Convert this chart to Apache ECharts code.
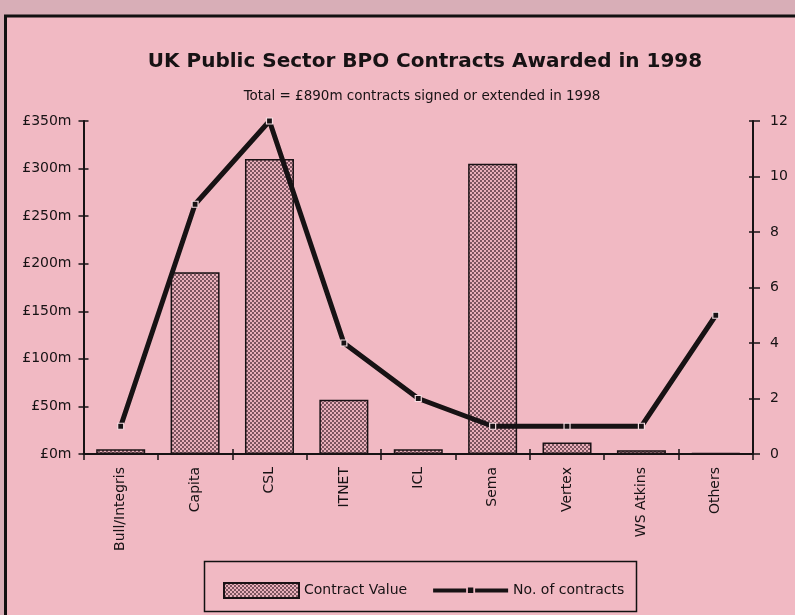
<!DOCTYPE html>
<html>
<head>
<meta charset="utf-8">
<script src="https://cdn.jsdelivr.net/npm/echarts@6/dist/echarts.min.js"></script>
<style>
html,body{margin:0;padding:0;background:#d8aeb7;}
#chart{width:795px;height:615px;}
</style>
</head>
<body>
<div id="chart"></div>
<script>
var categories = ['Bull/Integris','Capita','CSL','ITNET','ICL','Sema','Vertex','WS Atkins','Others'];
var contractValue = [5, 191, 310, 57, 5, 305, 12, 4, 1];
var numContracts = [1, 9, 12, 4, 2, 1, 1, 1, 5];
var leftTicks = {min: 0, max: 350, interval: 50};
var rightTicks = {min: 0, max: 12, interval: 2};

var PINK = '#f1b9c3';
var INK = '#171214';
var FONT = 'DejaVu Sans';

// dotted fill pattern for bars
var tile = document.createElement('canvas');
tile.width = 4; tile.height = 4;
var tc = tile.getContext('2d');
tc.fillStyle = '#eab0bb';
tc.fillRect(0, 0, 4, 4);
tc.fillStyle = '#4d2f39';
tc.beginPath(); tc.arc(1, 1, 0.95, 0, Math.PI * 2); tc.fill();
tc.beginPath(); tc.arc(3, 3, 0.95, 0, Math.PI * 2); tc.fill();
var barPattern = {image: tile, repeat: 'repeat'};

// legend icon for the line: thick bar with a small square in the middle
var lineIcon = 'path://M0 0h0.01v0.01h-0.01z M74.99 14.99h0.01v0.01h-0.01z ' +
  'M0 5.6h33v3.8h-33z M42 5.6h33v3.8h-33z M34.8 4.6h5.4v5.4h-5.4z';

var chart = echarts.init(document.getElementById('chart'), null, {renderer: 'canvas'});

var labelStyle = {color: INK, fontFamily: FONT, fontSize: 14};

chart.setOption({
  backgroundColor: 'transparent',
  animation: false,
  graphic: [
    {type: 'rect', z: -10, shape: {x: 5.5, y: 16, width: 800, height: 610},
     style: {fill: PINK, stroke: '#111', lineWidth: 3}},
    {type: 'rect', z: 10, shape: {x: 204.5, y: 561.5, width: 432, height: 50},
     style: {fill: 'transparent', stroke: '#111', lineWidth: 1.5}}
  ],
  title: [
    {text: 'UK Public Sector BPO Contracts Awarded in 1998', left: 420, top: 47, textAlign: 'center',
     textStyle: {fontFamily: FONT, fontWeight: 'bold', fontSize: 20, color: INK}},
    {text: 'Total = £890m contracts signed or extended in 1998', left: 417, top: 84, textAlign: 'center',
     textStyle: {fontFamily: FONT, fontWeight: 'normal', fontSize: 13.5, color: INK}}
  ],
  legend: {
    left: 218, top: 577, itemWidth: 75, itemHeight: 15, itemGap: 26,
    textStyle: {fontFamily: FONT, fontSize: 14, color: INK},
    data: [
      {name: 'Contract Value', icon: 'rect'},
      {name: 'No. of contracts', icon: lineIcon, itemStyle: {color: INK, borderWidth: 0}}
    ]
  },
  grid: {left: 83.5, right: 42, top: 121, bottom: 161, containLabel: false},
  xAxis: [
    {type: 'category', data: categories, position: 'bottom',
     axisLine: {lineStyle: {color: INK, width: 2}},
     axisTick: {show: true, length: 6, alignWithLabel: false, lineStyle: {color: INK, width: 1.5}},
     axisLabel: Object.assign({rotate: 90, margin: 13, interval: 0}, labelStyle)},
    {type: 'category', data: categories, position: 'bottom',
     axisLine: {show: false},
     axisTick: {show: true, inside: true, length: 5, lineStyle: {color: INK, width: 1.5}},
     axisLabel: {show: false}}
  ],
  yAxis: [
    {type: 'value', position: 'left', min: leftTicks.min, max: leftTicks.max, interval: leftTicks.interval,
     splitLine: {show: false},
     axisLine: {show: true, lineStyle: {color: INK, width: 2}},
     axisTick: {show: true, length: 5, lineStyle: {color: INK, width: 1.5}},
     axisLabel: Object.assign({margin: 12, formatter: '£{value}m'}, labelStyle)},
    {type: 'value', position: 'right', min: rightTicks.min, max: rightTicks.max, interval: rightTicks.interval,
     splitLine: {show: false},
     axisLine: {show: true, lineStyle: {color: INK, width: 2}},
     axisTick: {show: true, length: 7, lineStyle: {color: INK, width: 1.5}},
     axisLabel: Object.assign({margin: 17}, labelStyle)},
    {type: 'value', position: 'left', min: leftTicks.min, max: leftTicks.max, interval: leftTicks.interval,
     splitLine: {show: false}, axisLine: {show: false}, axisLabel: {show: false},
     axisTick: {show: true, inside: true, length: 5, lineStyle: {color: INK, width: 1.5}}},
    {type: 'value', position: 'right', min: rightTicks.min, max: rightTicks.max, interval: rightTicks.interval,
     splitLine: {show: false}, axisLine: {show: false}, axisLabel: {show: false},
     axisTick: {show: true, inside: true, length: 4, lineStyle: {color: INK, width: 1.5}}}
  ],
  series: [
    {name: 'Contract Value', type: 'bar', data: contractValue, xAxisIndex: 0, yAxisIndex: 0,
     barWidth: 49,
     itemStyle: {color: barPattern, borderColor: '#1a1215', borderWidth: 1.5}},
    {name: 'No. of contracts', type: 'line', data: numContracts, xAxisIndex: 0, yAxisIndex: 1,
     z: 5, symbol: 'rect', symbolSize: 6, showSymbol: true,
     lineStyle: {color: INK, width: 5},
     itemStyle: {color: INK, borderColor: '#f6dde2', borderWidth: 1.2}}
  ]
});
</script>
</body>
</html>
